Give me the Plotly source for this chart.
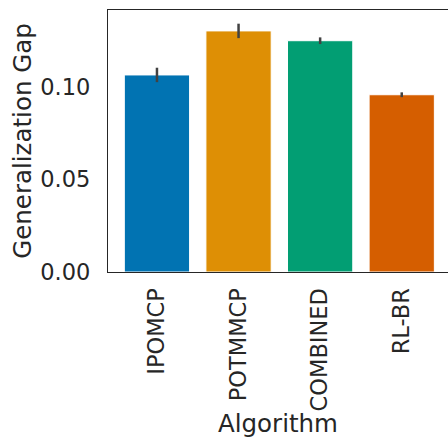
import plotly.graph_objects as go

algorithms = ["IPOMCP", "POTMMCP", "COMBINED", "RL-BR"]
gap_mean = [0.1065, 0.1303, 0.1250, 0.0958]
gap_err = [0.0039, 0.0039, 0.0018, 0.0013]
colors = ["#0173b2", "#de8f05", "#029e73", "#d55e00"]
y_ticks = [0.00, 0.05, 0.10]
y_tick_labels = ["0.00", "0.05", "0.10"]

font_family = "DejaVu Sans"
text_color = "#262626"

fig = go.Figure(
    go.Bar(
        x=algorithms,
        y=gap_mean,
        width=0.8,
        marker=dict(color=colors, line=dict(color="white", width=1)),
        error_y=dict(type="data", array=gap_err, color="#424242",
                     thickness=2.5, width=0),
    )
)

fig.update_layout(
    width=448, height=438,
    margin=dict(l=108, r=0, t=10, b=166),
    paper_bgcolor="white", plot_bgcolor="white",
    font=dict(family=font_family, color=text_color, size=22),
    showlegend=False,
    bargap=0.2,
)

fig.update_xaxes(
    range=[-0.6, 3.567],
    showline=True, linecolor="#262626", linewidth=1.25, mirror=True,
    showgrid=False, ticks="", tickangle=-90,
    tickfont=dict(size=22.5),
    ticklabelstandoff=6,
    title=dict(text="Algorithm", font=dict(size=24.5), standoff=5),
)

fig.update_yaxes(
    range=[0, 0.1416],
    showline=True, linecolor="#262626", linewidth=1.25, mirror=False,
    showgrid=False, zeroline=False, ticks="",
    tickvals=y_ticks, ticktext=y_tick_labels,
    tickfont=dict(size=22.5),
    ticklabelstandoff=12,
    title=dict(text="Generalization Gap", font=dict(size=24.5), standoff=1),
)

fig.write_html("out.html")
